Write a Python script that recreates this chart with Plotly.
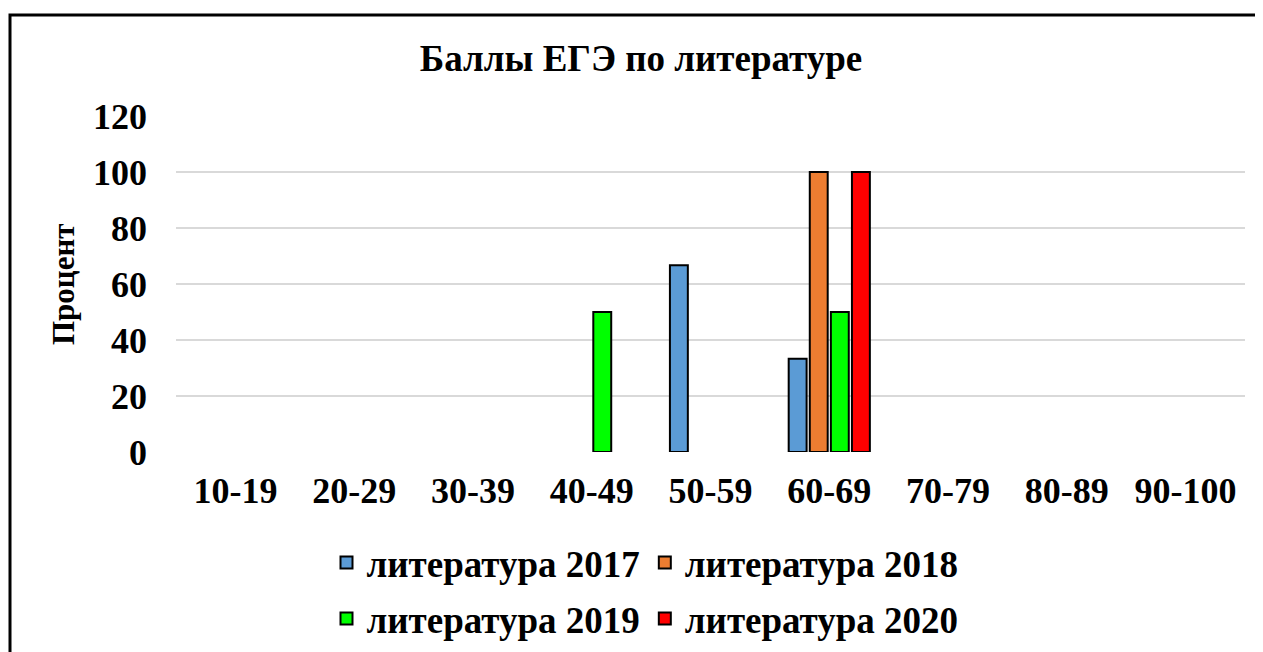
import plotly.graph_objects as go

# ================= DATA =================
categories = ["10-19", "20-29", "30-39", "40-49", "50-59",
              "60-69", "70-79", "80-89", "90-100"]
lit_2017 = [0, 0, 0, 0, 66.7, 33.3, 0, 0, 0]
lit_2018 = [0, 0, 0, 0, 0, 100, 0, 0, 0]
lit_2019 = [0, 0, 0, 50, 0, 50, 0, 0, 0]
lit_2020 = [0, 0, 0, 0, 0, 100, 0, 0, 0]
y_ticks = [0, 20, 40, 60, 80, 100, 120]
# ========================================

FONT = "Liberation Serif"
OFF = 8  # page body margin shifts the figure by 8px
W, H = 1263 - OFF, 652 - OFF
L, R, T, B = 176 - OFF, 18, 116 - OFF, 200
PW, PH = W - L - R, H - T - B


def px(x):
    # screen x -> paper x
    return (x - OFF - L) / PW


def py(y):
    # screen y -> paper y
    return (H - B - (y - OFF)) / PH


def hide_zero(vals):
    # Excel leaves zero bars invisible
    return [v if v else None for v in vals]


series = [
    ("литература 2017", lit_2017, "#5B9BD5", "legend"),
    ("литература 2018", lit_2018, "#ED7D31", "legend"),
    ("литература 2019", lit_2019, "#00FF00", "legend2"),
    ("литература 2020", lit_2020, "#FF0000", "legend2"),
]

fig = go.Figure()
for name, vals, color, leg in series:
    fig.add_trace(go.Bar(
        x=categories,
        y=hide_zero(vals),
        name=name,
        legend=leg,
        marker=dict(color=color, line=dict(color="black", width=2)),
    ))

tick_font = dict(family=FONT, size=36, color="black", weight="bold")
legend_font = dict(family=FONT, size=37, color="black", weight="bold")

fig.update_layout(
    width=W,
    height=H,
    margin=dict(l=L, r=R, t=T, b=B, autoexpand=False),
    paper_bgcolor="white",
    plot_bgcolor="white",
    barmode="group",
    bargap=0.29,
    bargroupgap=0.15,
    font=dict(family=FONT, color="black", weight="bold"),
    title=dict(
        text="Баллы ЕГЭ по литературе",
        font=dict(family=FONT, size=37, color="black", weight="bold"),
        x=px(641), xref="paper", xanchor="center",
        y=1 - (58 - OFF) / H, yanchor="middle",
    ),
    xaxis=dict(
        showgrid=False,
        showline=False,
        ticks="",
        ticklabelstandoff=14,
        tickfont=tick_font,
    ),
    yaxis=dict(
        range=[0, 120],
        tickvals=y_ticks,
        showgrid=True,
        gridcolor="#d9d9d9",
        gridwidth=2,
        zeroline=False,
        showline=False,
        ticks="",
        ticklabelstandoff=28,
        tickfont=tick_font,
    ),
    legend=dict(
        orientation="h",
        x=px(645), xanchor="center",
        y=py(563), yanchor="middle",
        font=legend_font,
        bgcolor="rgba(0,0,0,0)",
    ),
    legend2=dict(
        orientation="h",
        x=px(645), xanchor="center",
        y=py(619), yanchor="middle",
        font=legend_font,
        bgcolor="rgba(0,0,0,0)",
    ),
)

fig.add_annotation(
    text="Процент",
    xref="paper", yref="paper",
    x=px(63), y=0.5,
    xanchor="center", yanchor="middle",
    textangle=-90,
    showarrow=False,
    font=dict(family=FONT, size=31, color="black", weight="bold"),
)

# chart frame (top and left edges visible in the screenshot)
fig.add_shape(
    type="path",
    xref="paper", yref="paper",
    path=f"M {px(10)} {py(680)} L {px(10)} {py(15)} L {px(1275)} {py(15)}",
    line=dict(color="black", width=3),
)

fig.write_html("out.html")
